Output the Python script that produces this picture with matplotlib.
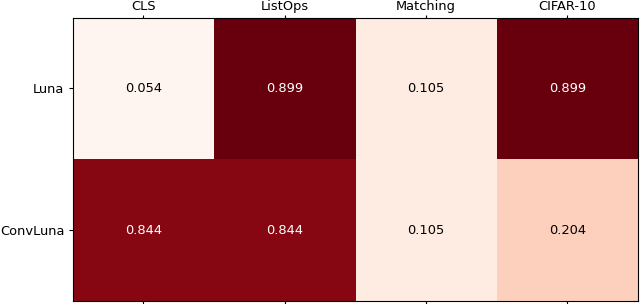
import numpy as np
import matplotlib
matplotlib.use("Agg")
import matplotlib.pyplot as plt

tasks = ["CLS", "ListOps", "Matching", "CIFAR-10"]
models = ["Luna", "ConvLuna"]
luna_scores = [0.054, 0.899, 0.105, 0.899]
convluna_scores = [0.844, 0.844, 0.105, 0.204]


def plot_heatmap():
    values = np.array([luna_scores, convluna_scores])

    fig = plt.figure(figsize=(6.4, 3.04), dpi=100)
    ax = fig.add_axes([72.5 / 640, 3 / 304, 565.5 / 640, 283.5 / 304])
    ax.imshow(values, cmap="Reds", aspect="auto")

    ax.set_xticks(range(len(tasks)))
    ax.set_xticklabels(tasks, fontsize=9.4)
    ax.set_yticks(range(len(models)))
    ax.set_yticklabels(models, fontsize=9.4)
    ax.tick_params(top=True, bottom=True, labeltop=True, labelbottom=False,
                   length=3, pad=3)
    ax.tick_params(axis="x", length=2.5, pad=0.5)

    # annotate each cell, white text on the dark cells
    threshold = values.max() / 2
    for i in range(values.shape[0]):
        for j in range(values.shape[1]):
            color = "white" if values[i, j] > threshold else "black"
            ax.text(j, i, f"{values[i, j]:.3f}", ha="center", va="center",
                    color=color, fontsize=9.4)

    fig.savefig("out.png", dpi=100)


if __name__ == "__main__":
    plot_heatmap()
